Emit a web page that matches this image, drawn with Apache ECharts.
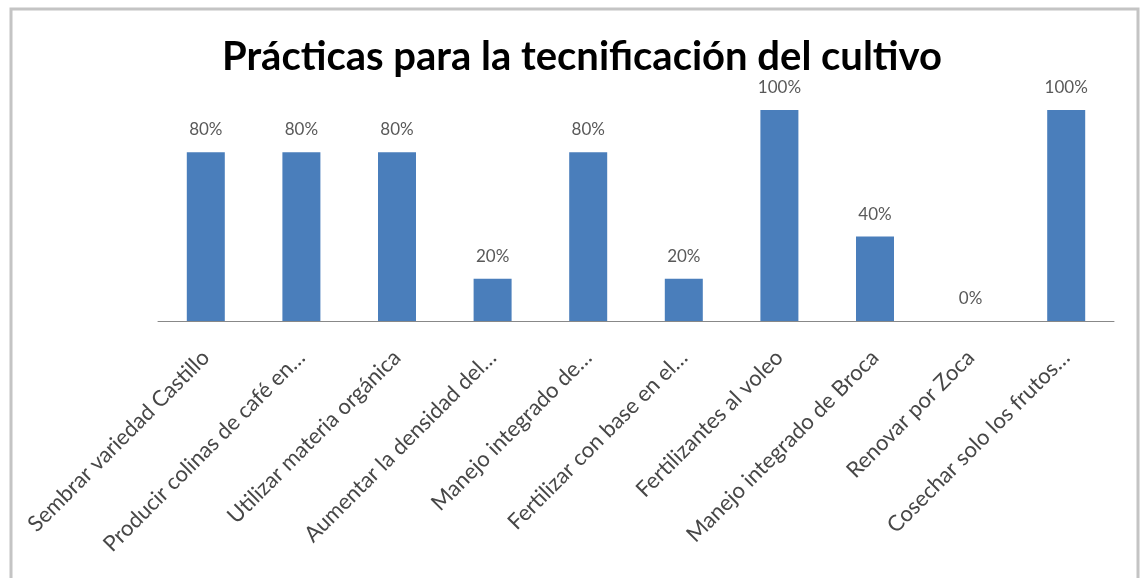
<!DOCTYPE html>
<html>
<head>
<meta charset="utf-8">
<script src="https://cdn.jsdelivr.net/npm/echarts@6/dist/echarts.min.js"></script>
<style>
  html, body { margin: 0; padding: 0; background: #fff; }
  #chart { width: 1141px; height: 578px; }
</style>
</head>
<body>
<div id="chart"></div>
<script>
// Practices and share of adoption
const categories = [
  'Sembrar variedad Castillo',
  'Producir colinas de café en…',
  'Utilizar materia orgánica',
  'Aumentar la densidad del…',
  'Manejo integrado de…',
  'Fertilizar con base en el…',
  'Fertilizantes al voleo',
  'Manejo integrado de Broca',
  'Renovar por Zoca',
  'Cosechar solo los frutos…'
];
const values = [0.8, 0.8, 0.8, 0.2, 0.8, 0.2, 1.0, 0.4, 0.0, 1.0];
const titleText = 'Prácticas para la tecnificación del cultivo';

const chart = echarts.init(document.getElementById('chart'));
chart.setOption({
  animation: false,
  backgroundColor: '#ffffff',
  title: {
    text: titleText,
    left: 217,
    top: 32,
    textStyle: { fontFamily: 'Lato', fontWeight: 'bold', fontSize: 40, color: '#000000' }
  },
  graphic: [{
    type: 'rect',
    shape: { x: 11, y: 9, width: 1127, height: 600 },
    style: { fill: 'none', stroke: '#c4c4c4', lineWidth: 3 },
    silent: true
  }],
  grid: { left: 158, right: 27, top: 110, bottom: 257, containLabel: false },
  xAxis: {
    type: 'category',
    data: categories,
    axisLine: { lineStyle: { color: '#888888', width: 1 } },
    axisTick: { show: false },
    axisLabel: {
      rotate: 45,
      interval: 0,
      margin: 33,
      color: '#474747',
      fontFamily: 'Lato',
      fontSize: 22
    }
  },
  yAxis: {
    type: 'value',
    min: 0,
    max: 1,
    show: false
  },
  series: [{
    type: 'bar',
    data: values,
    barWidth: 38,
    itemStyle: { color: '#4a7ebb' },
    label: {
      show: true,
      position: 'top',
      distance: 14,
      color: '#595959',
      fontFamily: 'Lato',
      fontSize: 17,
      formatter: p => Math.round(p.value * 100) + '%'
    }
  }]
});
</script>
</body>
</html>
